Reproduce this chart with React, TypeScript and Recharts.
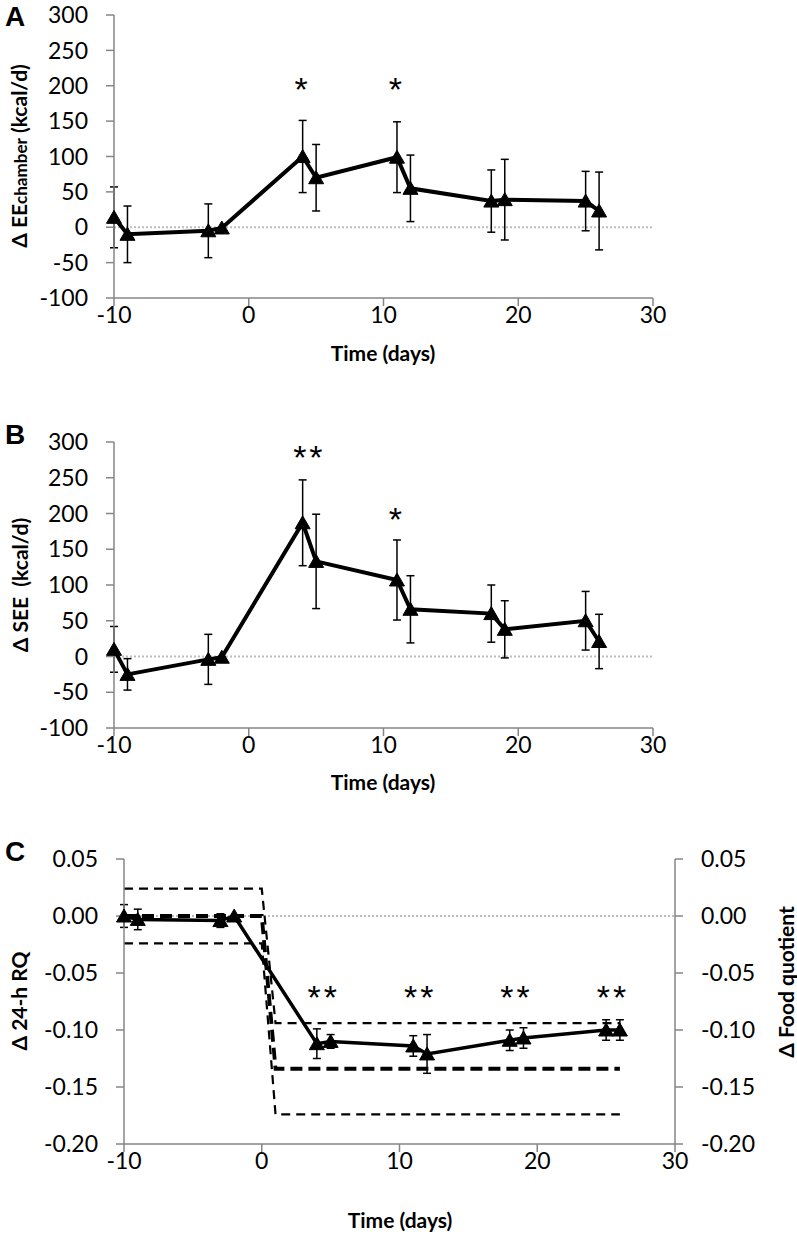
import React from 'react';
import { ComposedChart, Line, XAxis, YAxis, ErrorBar, ReferenceLine, Scatter } from 'recharts';

// ---- data ----
const days = [-10, -9, -3, -2, 4, 5, 11, 12, 18, 19, 25, 26];
const eeMean = [14, -10, -5, -1, 100, 70, 99, 55, 37, 39, 37, 23];
const eeErr = [43, 40, 38, 0, 51, 47, 50, 47, 44, 57, 42, 55];
const seeMean = [10, -25, -4, -1, 187, 133, 107, 66, 60, 38, 50, 21];
const seeErr = [32, 22, 35, 0, 60, 66, 56, 47, 40, 40, 41, 38];
const rqMean = [0, -0.003, -0.004, 0, -0.112, -0.110, -0.114, -0.121, -0.109, -0.107, -0.100, -0.100];
const rqErr = [0.010, 0.009, 0.006, 0, 0.013, 0.006, 0.009, 0.017, 0.009, 0.009, 0.009, 0.009];

const fqDays = [-10, 0, 1, 26];
const fqUpper = [0.024, 0.024, -0.094, -0.094];
const fqMid = [0, 0, -0.134, -0.134];
const fqLower = [-0.024, -0.024, -0.174, -0.174];

const starsAx = [4, 11];
const starsAy = [205, 205];
const starsAlabel = ['*', '*'];
const starsBx = [4.5, 11];
const starsBy = [289, 202];
const starsBlabel = ['**', '*'];
const starsCx = [4.5, 11.5, 18.5, 25.5];
const starsCy = [-0.065, -0.065, -0.065, -0.065];
const starsClabel = ['**', '**', '**', '**'];

const xTicks = [-10, 0, 10, 20, 30];
const kcalTicks = [-100, -50, 0, 50, 100, 150, 200, 250, 300];
const rqTicks = [-0.2, -0.15, -0.1, -0.05, 0, 0.05];

// ---- helpers ----
const rows = (ys: number[], errs: number[]) => days.map((d, i) => ({ x: d, y: ys[i], err: errs[i] }));
const lineRows = (xs: number[], ys: number[]) => xs.map((d, i) => ({ x: d, y: ys[i] }));
const starRows = (xs: number[], ys: number[], ls: string[]) => xs.map((d, i) => ({ x: d, y: ys[i], label: ls[i] }));

const FONT = 'Lato, "Open Sans", sans-serif';
const AXIS = '#868686';

const Triangle = (props: any) => {
  const { cx, cy } = props;
  if (cx == null || cy == null) return <g />;
  return <polygon points={`${cx},${cy - 7} ${cx - 7.5},${cy + 6} ${cx + 7.5},${cy + 6}`} fill="#000" stroke="#000" strokeWidth={1} />;
};

const StarShape = (props: any) => {
  const { cx, cy, payload } = props;
  return (
    <text x={cx} y={cy + 19} textAnchor="middle" fontFamily='"Liberation Sans", Arial, sans-serif' fontSize={34} letterSpacing={3} fill="#000">
      {payload.label}
    </text>
  );
};

const tickStyle = { fill: '#000', fontSize: 23, fontFamily: FONT };
const axisLine = { stroke: AXIS, strokeWidth: 1.5 };

const Title = ({ x, y, rotate, children, size = 21 }: any) => (
  <div
    style={{
      position: 'absolute',
      left: x,
      top: y,
      transform: `translate(-50%, -50%)${rotate ? ' rotate(-90deg)' : ''}`,
      whiteSpace: 'nowrap',
      fontFamily: FONT,
      fontWeight: 'bold',
      fontSize: size,
      color: '#000',
      lineHeight: 1,
    }}
  >
    {children}
  </div>
);

const Letter = ({ x, y, children }: any) => (
  <div
    style={{
      position: 'absolute',
      left: x,
      top: y,
      fontFamily: '"Liberation Sans", Arial, sans-serif',
      fontWeight: 'bold',
      fontSize: 28,
      lineHeight: 1,
      color: '#000',
    }}
  >
    {children}
  </div>
);

const KcalPanel = ({ mean, err, sx, sy, sl, top, bottom }: any) => (
  <ComposedChart width={797} height={380} margin={{ top, right: 144, left: 0, bottom }} style={{ overflow: 'visible' }}>
    <XAxis
      dataKey="x"
      type="number"
      domain={[-10, 30]}
      ticks={xTicks}
      interval={0}
      tick={tickStyle}
      tickSize={8}
      tickMargin={1}
      axisLine={axisLine}
      tickLine={axisLine}
      height={30}
    />
    <YAxis
      type="number"
      domain={[-100, 300]}
      ticks={kcalTicks}
      interval={0}
      tick={tickStyle}
      tickSize={8}
      tickMargin={18}
      axisLine={axisLine}
      tickLine={axisLine}
      width={114}
    />
    <ReferenceLine y={0} stroke="#bdbdbd" strokeWidth={2} strokeDasharray="2 2" />
    <Line
      data={rows(mean, err)}
      dataKey="y"
      type="linear"
      stroke="#000"
      strokeWidth={4}
      dot={<Triangle />}
      activeDot={false}
      isAnimationActive={false}
    >
      <ErrorBar dataKey="err" width={4} strokeWidth={1.5} stroke="#000" direction="y" />
    </Line>
    <Scatter data={starRows(sx, sy, sl)} dataKey="y" shape={<StarShape />} isAnimationActive={false} />
  </ComposedChart>
);

const RQPanel = () => (
  <ComposedChart width={797} height={476} margin={{ top: 99, right: 0, left: 0, bottom: 62 }}>
    <XAxis
      dataKey="x"
      type="number"
      domain={[-10, 30]}
      ticks={xTicks}
      interval={0}
      tick={tickStyle}
      tickSize={8}
      tickMargin={1}
      axisLine={axisLine}
      tickLine={axisLine}
      height={30}
    />
    <YAxis
      yAxisId="left"
      type="number"
      domain={[-0.2, 0.05]}
      ticks={rqTicks}
      interval={0}
      tick={tickStyle}
      tickSize={8}
      tickMargin={18}
      axisLine={axisLine}
      tickLine={axisLine}
      width={124}
      tickFormatter={(v: number) => v.toFixed(2)}
    />
    <YAxis
      yAxisId="right"
      orientation="right"
      type="number"
      domain={[-0.2, 0.05]}
      ticks={rqTicks}
      interval={0}
      tick={tickStyle}
      tickSize={8}
      tickMargin={18}
      axisLine={axisLine}
      tickLine={axisLine}
      width={122}
      tickFormatter={(v: number) => v.toFixed(2)}
    />
    <ReferenceLine yAxisId="left" y={0} stroke="#bdbdbd" strokeWidth={2} strokeDasharray="2 2" />
    <Line yAxisId="right" data={lineRows(fqDays, fqUpper)} dataKey="y" type="linear" stroke="#000" strokeWidth={2.2} strokeDasharray="9 6" dot={false} activeDot={false} isAnimationActive={false} />
    <Line yAxisId="right" data={lineRows(fqDays, fqLower)} dataKey="y" type="linear" stroke="#000" strokeWidth={2.2} strokeDasharray="9 6" dot={false} activeDot={false} isAnimationActive={false} />
    <Line yAxisId="right" data={lineRows(fqDays, fqMid)} dataKey="y" type="linear" stroke="#000" strokeWidth={3.8} strokeDasharray="12 6" dot={false} activeDot={false} isAnimationActive={false} />
    <Line
      yAxisId="left"
      data={rows(rqMean, rqErr)}
      dataKey="y"
      type="linear"
      stroke="#000"
      strokeWidth={3.5}
      dot={<Triangle />}
      activeDot={false}
      isAnimationActive={false}
    >
      <ErrorBar dataKey="err" width={4} strokeWidth={1.5} stroke="#000" direction="y" />
    </Line>
    <Scatter yAxisId="left" data={starRows(starsCx, starsCy, starsClabel)} dataKey="y" shape={<StarShape />} isAnimationActive={false} />
  </ComposedChart>
);

export default function App() {
  return (
    <div style={{ position: 'absolute', left: 0, top: 0, width: 797, height: 1236, background: '#fff', overflow: 'hidden' }}>
      <div style={{ position: 'absolute', left: 0, top: 0 }}>
        <KcalPanel mean={eeMean} err={eeErr} sx={starsAx} sy={starsAy} sl={starsAlabel} top={15} bottom={52} />
      </div>
      <div style={{ position: 'absolute', left: 0, top: 400 }}>
        <KcalPanel mean={seeMean} err={seeErr} sx={starsBx} sy={starsBy} sl={starsBlabel} top={42} bottom={22} />
      </div>
      <div style={{ position: 'absolute', left: 0, top: 760 }}>
        <RQPanel />
      </div>

      <Letter x={5} y={3}>A</Letter>
      <Letter x={5} y={421}>B</Letter>
      <Letter x={5} y={838}>C</Letter>

      <Title x={18} y={156} rotate>
        Δ EE<span style={{ fontSize: 17 }}>chamber</span> (kcal/d)
      </Title>
      <Title x={383} y={352}>Time (days)</Title>

      <Title x={19} y={585} rotate>Δ SEE&nbsp;&nbsp;(kcal/d)</Title>
      <Title x={383} y={781}>Time (days)</Title>

      <Title x={18} y={1001} rotate>Δ 24-h RQ</Title>
      <Title x={785} y={982} rotate>Δ Food quotient</Title>
      <Title x={400} y={1219}>Time (days)</Title>
    </div>
  );
}
